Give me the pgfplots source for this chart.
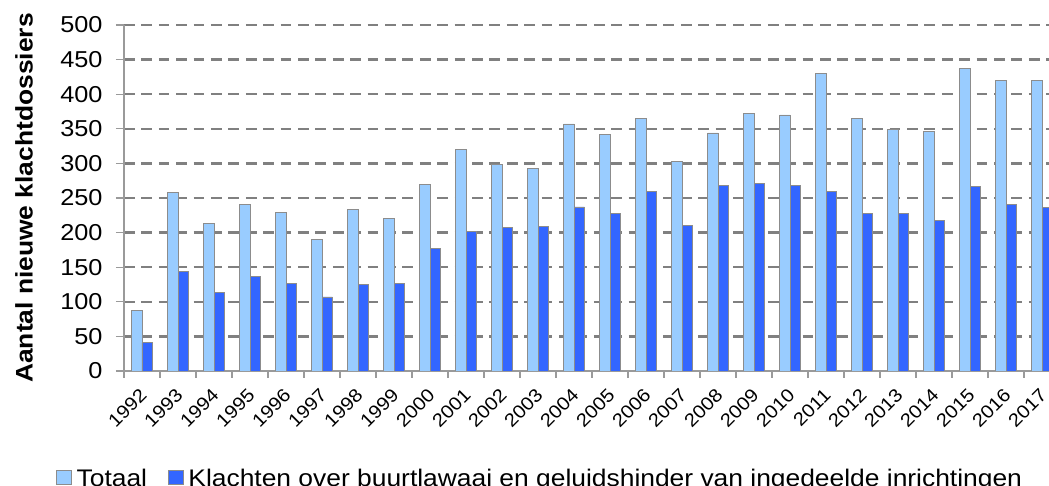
\documentclass[border=0pt]{standalone}
\usepackage{fontspec}
\setmainfont{Liberation Sans}[FakeStretch=1.1]
\usepackage{pgfplots}
\pgfplotsset{compat=1.18}
\definecolor{lightbar}{HTML}{99CCFF}
\definecolor{darkbar}{HTML}{3366FF}
\definecolor{gridgray}{HTML}{808080}
\definecolor{axisgray}{HTML}{9A9A9A}
\definecolor{edgegray}{HTML}{8C8C8C}
\begin{document}
\begin{tikzpicture}
\begin{axis}[
  at={(0pt,0pt)}, anchor=south west,
  scale only axis, width=925pt, height=346pt,
  xmin=-0.5, xmax=25.194, ymin=0, ymax=500,
  ybar=0pt, bar width=10.3pt,
  /pgf/number format/assume math mode=true,
  axis x line*=bottom, axis y line*=left,
  axis line style={axisgray, line width=1.3pt},
  xtick={0,...,25},
  xticklabels={1992,1993,1994,1995,1996,1997,1998,1999,2000,2001,2002,2003,2004,2005,2006,2007,2008,2009,2010,2011,2012,2013,2014,2015,2016,2017},
  minor xtick={-0.5,0.5,...,24.5},
  major x tick style={draw=none},
  minor x tick style={axisgray, line width=1.2pt},
  ytick={0,50,...,500},
  ytick style={axisgray, line width=1.2pt},
  tick align=outside,
  major tick length=8pt, minor tick length=7pt,
  ymajorgrids,
  major y grid style={gridgray, line width=2.3pt, dash pattern=on 10.7pt off 6.7pt},
  yticklabel style={font=\fontsize{23}{27}\selectfont, xshift=-10pt},
  xticklabel style={font=\fontsize{18.5}{21}\selectfont, rotate=45, anchor=east, xshift=1.5pt, yshift=-4pt},
  xticklabel shift=9pt,
  ylabel={\bfseries Aantal nieuwe klachtdossiers},
  ylabel style={font=\fontsize{24}{28}\selectfont, at={(axis description cs:-0.108,0.5)}, anchor=center},
  legend columns=2,
  legend style={at={(rel axis cs:-0.0735,-0.312)}, anchor=west, draw=none, fill=none,
    font=\fontsize{24}{28}\selectfont, inner sep=0pt,
    /tikz/every odd column/.append style={column sep=3pt},
    /tikz/every even column/.append style={column sep=19pt}},
  legend image code/.code={\draw[#1, draw=edgegray, line width=0.9pt] (0pt,-6pt) rectangle (14.5pt,8.5pt);},
]
\addplot[fill=lightbar, draw=edgegray, line width=0.9pt] coordinates {
(0,88) (1,258) (2,213) (3,241) (4,229) (5,190) (6,233) (7,220) (8,270) (9,320)
(10,298) (11,292) (12,357) (13,342) (14,365) (15,303) (16,344) (17,372) (18,370)
(19,430) (20,365) (21,349) (22,346) (23,437) (24,420) (25,420)};
\addplot[fill=darkbar, draw=edgegray, line width=0.9pt] coordinates {
(0,41) (1,144) (2,114) (3,137) (4,127) (5,107) (6,125) (7,127) (8,177) (9,201)
(10,207) (11,209) (12,237) (13,227) (14,259) (15,210) (16,268) (17,271) (18,268)
(19,259) (20,227) (21,227) (22,218) (23,266) (24,240) (25,236)};
\legend{Totaal, Klachten over buurtlawaai en geluidshinder van ingedeelde inrichtingen}
\end{axis}
\pgfresetboundingbox
\path[use as bounding box] (-124pt,-115pt) rectangle (925pt,371pt);
\end{tikzpicture}
\end{document}
